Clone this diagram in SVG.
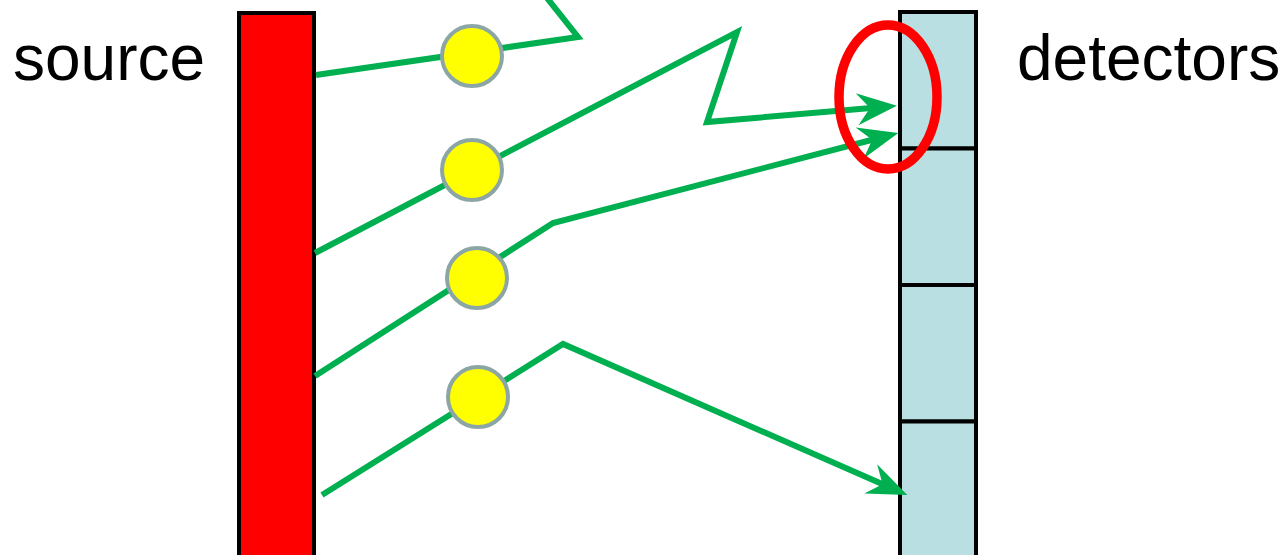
<svg xmlns="http://www.w3.org/2000/svg" width="1284" height="555" viewBox="0 0 1284 555">
<style>
.lbl{font-family:"Liberation Sans",Arial,sans-serif;font-size:64px;fill:#000}
.ray{fill:none;stroke:#00B050;stroke-width:6;stroke-linejoin:miter}
.ray.arr{marker-end:url(#ah)}
.atom{fill:#FFFF00;stroke:#8CA5A5;stroke-width:4}
.cell{fill:#BADFE3;stroke:#000;stroke-width:4}
</style>
<defs>
<marker id="ah" markerUnits="userSpaceOnUse" orient="auto" refX="0" refY="0" markerWidth="80" markerHeight="80" viewBox="-40 -40 80 80" overflow="visible">
<path d="M20,0 L-20,-16 L-7,0 L-20,16 Z" fill="#00B050"/>
</marker>
</defs>
<rect width="1284" height="555" fill="#fff"/>
<g id="source">
<rect x="239" y="13" width="75" height="560" fill="#FF0000" stroke="#000" stroke-width="4"/>
<text class="lbl" x="13" y="80">source</text>
</g>
<g id="detectors">
<rect class="cell" x="900" y="12" width="76" height="136.5"/>
<rect class="cell" x="900" y="148.5" width="76" height="136.5"/>
<rect class="cell" x="900" y="285" width="76" height="136.5"/>
<rect class="cell" x="900" y="421.5" width="76" height="140"/>
<text class="lbl" x="1017" y="80">detectors</text>
</g>
<g id="connectors">
<polyline class="ray" points="316,75 578,37 547,-2"/>
<polyline class="ray arr" points="315,253 737,32 707,122 877,107.5"/>
<polyline class="ray arr" points="315,376 553,223 879,138"/>
<polyline class="ray arr" points="322,495 563,344 889,487"/>
</g>
<g id="atom1"><circle class="atom" cx="472" cy="56" r="30"/></g>
<g id="atom2"><circle class="atom" cx="472" cy="170" r="30"/></g>
<g id="atom3"><circle class="atom" cx="477" cy="278" r="30"/></g>
<g id="atom4"><circle class="atom" cx="478" cy="397" r="30"/></g>
<g id="highlight"><ellipse cx="888" cy="97" rx="49" ry="72" fill="none" stroke="#FF0000" stroke-width="9.5"/></g>
</svg>
